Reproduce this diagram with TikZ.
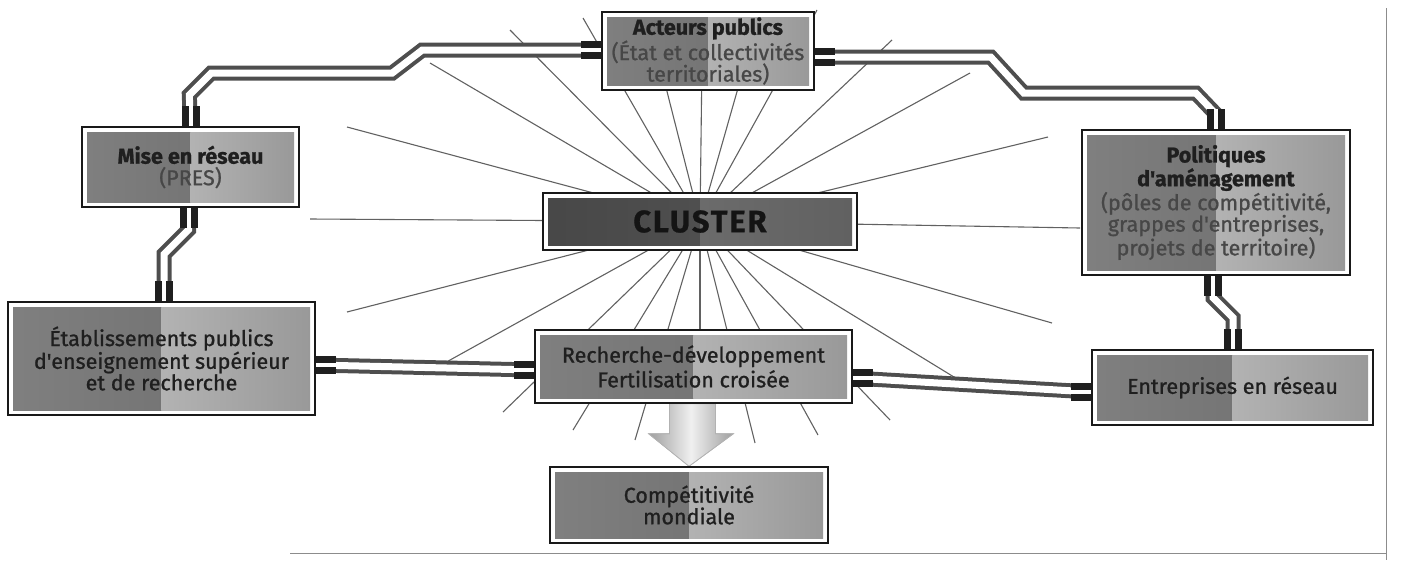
\documentclass[tikz,border=0pt]{standalone}
\usepackage{fontspec}
\setmainfont{Fira Sans}[FakeBold=0.6]
\newfontfamily\medfont{Fira Sans}[FakeBold=1.0]
\usetikzlibrary{calc}
\pgfdeclarelayer{bg}
\pgfdeclarelayer{mid}
\pgfsetlayers{bg,mid,main}
\definecolor{cab}{HTML}{4E4E4E}
\newcommand\subtxt[1]{\textcolor{black!72}{\mdseries #1}}
\tikzset{
  ray/.style={draw=black!62, line width=1.1pt},
  cable/.style={draw=cab, line width=4pt, double=white, double distance=7pt},
  plug/.style={draw=black!88, line width=7pt, double=white, double distance=4pt},
  frameline/.style={draw=black!45, line width=0.8pt},
  halves/.style n args={4}{path picture={
      \shade[left color=#1, right color=#2]
        ([xshift=5pt,yshift=-5pt]path picture bounding box.north west) rectangle
        ([yshift=5pt]path picture bounding box.south);
      \shade[left color=#3, right color=#4]
        ([yshift=-5pt]path picture bounding box.north) rectangle
        ([xshift=-5pt,yshift=5pt]path picture bounding box.south east);
  }},
  box/.style={draw=black!90, line width=1.4pt, fill=white, inner sep=0pt,
    align=center, text=black!88, font=\fontsize{21.5}{21.5}\medfont\selectfont,
    halves={black!50}{black!58}{black!30}{black!40}},
  clusterbox/.style={box, halves={black!72}{black!66}{black!58}{black!62},
    font=\fontsize{31}{32}\bfseries\addfontfeature{LetterSpace=6}\selectfont, text=black!92},
  bigarrow/.style={draw=black!30, line width=0.6pt, left color=black!38,
    right color=black!38, middle color=black!6},
}
\begin{document}
\begin{tikzpicture}[x=1pt,y=-1pt]
\useasboundingbox (0,0) rectangle (1402,574);

% boxes
\node[box, minimum width=212pt, minimum height=78pt] (act) at (708,51)
  {\textbf{Acteurs publics}\\\subtxt{(État et collectivités}\\\subtxt{territoriales)}};
\node[box, minimum width=217pt, minimum height=80pt] (mise) at (190.5,167)
  {\textbf{Mise en réseau}\\\subtxt{(PRES)}};
\node[box, minimum width=268pt, minimum height=145pt] (pol) at (1216,202.5)
  {\textbf{Politiques}\\\textbf{d'aménagement}\\\subtxt{(pôles de compétitivité,}\\\subtxt{grappes d'entreprises,}\\\subtxt{projets de territoire)}};
\node[clusterbox, minimum width=314pt, minimum height=57pt] (clu) at (700,221.5)
  {CLUSTER};
\node[box, minimum width=307pt, minimum height=113pt] (etab) at (161.5,358.5)
  {Établissements publics\\d'enseignement supérieur\\et de recherche};
\node[box, minimum width=317pt, minimum height=73pt] (rd) at (693.5,366.5)
  {Recherche-développement\\[2pt]Fertilisation croisée};
\node[box, minimum width=281pt, minimum height=75pt] (ent) at (1232.5,387.5)
  {Entreprises en réseau};
\node[box, minimum width=278pt, minimum height=76pt] (comp) at (689,505)
  {Compétitivité\\mondiale};

% rays
\begin{pgfonlayer}{bg}
\foreach \p in {(310,219),(347,127),(430,63),(510,30),(583,18),(659,60),(702,60),
  (746,60),(817,10),(892,40),(970,73),(1048,137),(1080,228),
  (347,312),(423,375),(503,412),(573,430),(635,440),(700,440),(755,443),
  (818,435),(890,420),(967,385),(1052,323)}
  \draw[ray] (clu.center) -- \p;
\end{pgfonlayer}

% connectors
\begin{pgfonlayer}{mid}
\draw[cable] ([yshift=1pt]act.west) -- ++(-179,0) -- ++(-30,23) -- ++(-181,0)
  -- ++(-22,22) -- (mise.north);
\draw[cable] ([yshift=-6pt]act.east) -- ++(176,0) -- ++(33,36) -- ++(172,0)
  -- ++(21,22) -- (pol.north);
\draw[cable] ([xshift=-2pt]mise.south) -- ++(0,22) -- ++(-24.5,24.5)
  -- ([xshift=2.5pt]etab.north);
\draw[cable] ([yshift=-6.5pt]etab.east) -- ([yshift=-3.5pt]rd.west);
\draw[cable] ([yshift=-11.5pt]rd.east) -- ([yshift=-4.5pt]ent.west);
\draw[cable] ([xshift=-3pt]pol.south) -- ++(0,22) -- ++(20,20)
  -- ([xshift=0.5pt]ent.north);
% plugs
\draw[plug] ([yshift=1pt]act.west) -- ++(-20,0);
\draw[plug] (mise.north) -- ++(0,-20);
\draw[plug] ([yshift=-6pt]act.east) -- ++(20,0);
\draw[plug] (pol.north) -- ++(0,-20);
\draw[plug] ([xshift=-2pt]mise.south) -- ++(0,20);
\draw[plug] ([xshift=2.5pt]etab.north) -- ++(0,-20);
\draw[plug] ([yshift=-6.5pt]etab.east) -- ++(20,0);
\draw[plug] ([yshift=-3.5pt]rd.west) -- ++(-20,0);
\draw[plug] ([yshift=-11.5pt]rd.east) -- ++(20,0);
\draw[plug] ([yshift=-4.5pt]ent.west) -- ++(-20,0);
\draw[plug] ([xshift=-3pt]pol.south) -- ++(0,20);
\draw[plug] ([xshift=0.5pt]ent.north) -- ++(0,-20);
% big arrow
\shade[bigarrow] ($(rd.south)+(-24,0)$) -- ($(rd.south)+(-24,30)$)
  -- ($(rd.south)+(-45,30)$) -- (comp.north) -- ($(rd.south)+(40,30)$)
  -- ($(rd.south)+(22,30)$) -- ($(rd.south)+(22,0)$) -- cycle;
\draw[bigarrow, fill=none, shade=false] ($(rd.south)+(-24,0)$) -- ($(rd.south)+(-24,30)$)
  -- ($(rd.south)+(-45,30)$) -- (comp.north) -- ($(rd.south)+(40,30)$)
  -- ($(rd.south)+(22,30)$) -- ($(rd.south)+(22,0)$);
\end{pgfonlayer}

% frame
\draw[frameline] (1386,8) -- (1386,560);
\draw[frameline] (290,553) -- (1386,553);
\end{tikzpicture}
\end{document}
